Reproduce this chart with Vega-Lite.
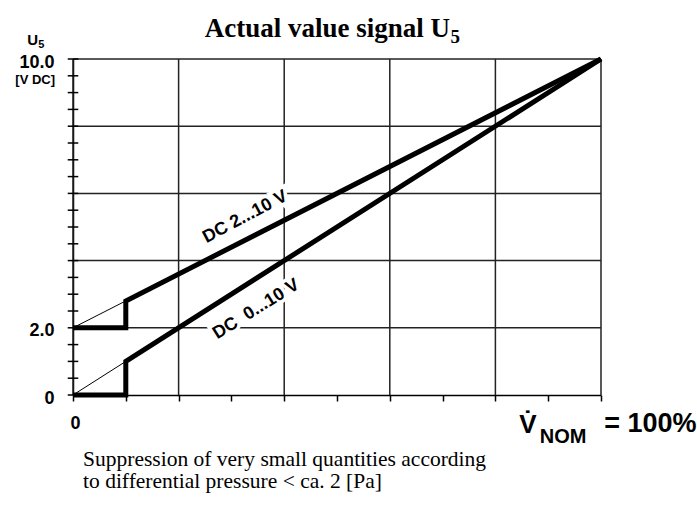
{
  "$schema": "https://vega.github.io/schema/vega-lite/v6.json",
  "width": 528,
  "height": 336,
  "autosize": {"type": "none"},
  "padding": {"left": 73, "top": 59, "right": 96, "bottom": 120},
  "background": "white",
  "config": {"view": {"stroke": null}},
  "datasets": {
    "vgrid": [{"x": 0}, {"x": 20}, {"x": 40}, {"x": 60}, {"x": 80}, {"x": 100}],
    "hgrid": [{"y": 2}, {"y": 4}, {"y": 6}, {"y": 8}, {"y": 10}],
    "yticks": [
      {"y": 0}, {"y": 0.5}, {"y": 1}, {"y": 1.5}, {"y": 2}, {"y": 2.5}, {"y": 3}, {"y": 3.5}, {"y": 4}, {"y": 4.5},
      {"y": 5}, {"y": 5.5}, {"y": 6}, {"y": 6.5}, {"y": 7}, {"y": 7.5}, {"y": 8}, {"y": 8.5}, {"y": 9}, {"y": 9.5}, {"y": 10}
    ],
    "thin": [
      {"s": "DC 0...10 V", "x": 0, "y": 0},
      {"s": "DC 0...10 V", "x": 10, "y": 1},
      {"s": "DC 2...10 V", "x": 0, "y": 2},
      {"s": "DC 2...10 V", "x": 10, "y": 2.8}
    ],
    "thick": [
      {"s": "DC 0...10 V", "i": 1, "x": 0, "y": 0},
      {"s": "DC 0...10 V", "i": 2, "x": 10, "y": 0},
      {"s": "DC 0...10 V", "i": 3, "x": 10, "y": 1},
      {"s": "DC 0...10 V", "i": 4, "x": 100, "y": 10},
      {"s": "DC 2...10 V", "i": 1, "x": 0, "y": 2},
      {"s": "DC 2...10 V", "i": 2, "x": 10, "y": 2},
      {"s": "DC 2...10 V", "i": 3, "x": 10, "y": 2.8},
      {"s": "DC 2...10 V", "i": 4, "x": 100, "y": 10}
    ]
  },
  "layer": [
    {
      "data": {"name": "vgrid"},
      "mark": {"type": "rule", "color": "#222", "strokeWidth": 1.5},
      "encoding": {
        "x": {
          "field": "x", "type": "quantitative",
          "scale": {"domain": [0, 100], "nice": false, "zero": false},
          "axis": {
            "values": [0, 10, 20, 30, 40, 50, 60, 70, 80, 90, 100],
            "labelExpr": "datum.value == 0 ? '0' : ''",
            "title": null, "grid": false,
            "domainColor": "black", "domainWidth": 1.5,
            "tickColor": "black", "tickWidth": 1.5, "tickSize": 6,
            "labelFont": "Liberation Sans", "labelFontWeight": "bold", "labelFontSize": 18,
            "labelColor": "black", "labelPadding": 13, "labelAlign": "center", "labelFlush": false, "labelOffset": 2
          }
        },
        "y": {
          "datum": 0, "type": "quantitative",
          "scale": {"domain": [0, 10], "nice": false},
          "axis": {
            "values": [0, 2, 10],
            "labelExpr": "datum.value == 0 ? '0' : datum.value == 10 ? '10.0' : '2.0'",
            "title": null, "grid": false, "ticks": false,
            "domainColor": "black", "domainWidth": 1.5,
            "labelFont": "Liberation Sans", "labelFontWeight": "bold", "labelFontSize": 18,
            "labelColor": "black", "labelPadding": 19, "labelOffset": 3, "labelFlush": false
          }
        },
        "y2": {"datum": 10}
      }
    },
    {
      "data": {"name": "hgrid"},
      "mark": {"type": "rule", "color": "#222", "strokeWidth": 1.5},
      "encoding": {
        "y": {"field": "y", "type": "quantitative"},
        "x": {"datum": 0, "type": "quantitative"},
        "x2": {"datum": 100}
      }
    },
    {
      "data": {"name": "yticks"},
      "mark": {"type": "rule", "color": "black", "strokeWidth": 1.5},
      "encoding": {
        "y": {"field": "y", "type": "quantitative"},
        "x": {"datum": -1, "type": "quantitative"},
        "x2": {"datum": 1}
      }
    },
    {
      "data": {"values": [{"t": "DC 2...10 V", "x": 32.6, "y": 5.3}]},
      "mark": {"type": "text", "angle": 332, "font": "Liberation Sans", "fontWeight": "bold", "fontSize": 18, "stroke": "white", "strokeWidth": 7, "fill": "white", "align": "center", "baseline": "middle"},
      "encoding": {
        "x": {"field": "x", "type": "quantitative"},
        "y": {"field": "y", "type": "quantitative"},
        "text": {"field": "t"}
      }
    },
    {
      "data": {"values": [{"t": "DC\u00a0 0...10 V", "x": 34.7, "y": 2.55}]},
      "mark": {"type": "text", "angle": 328, "font": "Liberation Sans", "fontWeight": "bold", "fontSize": 18, "stroke": "white", "strokeWidth": 7, "fill": "white", "align": "center", "baseline": "middle"},
      "encoding": {
        "x": {"field": "x", "type": "quantitative"},
        "y": {"field": "y", "type": "quantitative"},
        "text": {"field": "t"}
      }
    },
    {
      "data": {"name": "thin"},
      "mark": {"type": "line", "color": "black", "strokeWidth": 1},
      "encoding": {
        "x": {"field": "x", "type": "quantitative"},
        "y": {"field": "y", "type": "quantitative"},
        "detail": {"field": "s"}
      }
    },
    {
      "data": {"name": "thick"},
      "mark": {"type": "line", "color": "black", "strokeWidth": 5, "strokeJoin": "miter", "strokeCap": "butt"},
      "encoding": {
        "x": {"field": "x", "type": "quantitative"},
        "y": {"field": "y", "type": "quantitative"},
        "detail": {"field": "s"},
        "order": {"field": "i"}
      }
    },
    {
      "mark": {"type": "rule", "color": "black", "strokeWidth": 1.5, "strokeDash": [7, 5]},
      "encoding": {
        "x": {"datum": 10, "type": "quantitative"},
        "y": {"datum": -1.9, "type": "quantitative"},
        "y2": {"datum": 3.6}
      }
    },
    {
      "data": {"values": [{"t": "DC 2...10 V", "x": 32.6, "y": 5.3}]},
      "mark": {"type": "text", "angle": 332, "font": "Liberation Sans", "fontWeight": "bold", "fontSize": 18, "color": "black", "align": "center", "baseline": "middle"},
      "encoding": {
        "x": {"field": "x", "type": "quantitative"},
        "y": {"field": "y", "type": "quantitative"},
        "text": {"field": "t"}
      }
    },
    {
      "data": {"values": [{"t": "DC\u00a0 0...10 V", "x": 34.7, "y": 2.55}]},
      "mark": {"type": "text", "angle": 328, "font": "Liberation Sans", "fontWeight": "bold", "fontSize": 18, "color": "black", "align": "center", "baseline": "middle"},
      "encoding": {
        "x": {"field": "x", "type": "quantitative"},
        "y": {"field": "y", "type": "quantitative"},
        "text": {"field": "t"}
      }
    },
    {
      "data": {"values": [{"t": "Actual value signal U", "x": 71.4, "y": 10.655}]},
      "mark": {"type": "text", "font": "Liberation Serif", "fontWeight": "bold", "fontSize": 27, "color": "black", "align": "right", "baseline": "alphabetic"},
      "encoding": {
        "x": {"field": "x", "type": "quantitative"},
        "y": {"field": "y", "type": "quantitative"},
        "text": {"field": "t"}
      }
    },
    {
      "data": {"values": [{"t": "5", "x": 71.5, "y": 10.48}]},
      "mark": {"type": "text", "font": "Liberation Serif", "fontWeight": "bold", "fontSize": 19, "color": "black", "align": "left", "baseline": "alphabetic"},
      "encoding": {
        "x": {"field": "x", "type": "quantitative"},
        "y": {"field": "y", "type": "quantitative"},
        "text": {"field": "t"}
      }
    },
    {
      "data": {"values": [{"t": "U", "x": -6.6, "y": 10.42}]},
      "mark": {"type": "text", "font": "Liberation Sans", "fontWeight": "bold", "fontSize": 15, "color": "black", "align": "right", "baseline": "alphabetic"},
      "encoding": {
        "x": {"field": "x", "type": "quantitative"},
        "y": {"field": "y", "type": "quantitative"},
        "text": {"field": "t"}
      }
    },
    {
      "data": {"values": [{"t": "5", "x": -6.6, "y": 10.33}]},
      "mark": {"type": "text", "font": "Liberation Sans", "fontWeight": "bold", "fontSize": 11, "color": "black", "align": "left", "baseline": "alphabetic"},
      "encoding": {
        "x": {"field": "x", "type": "quantitative"},
        "y": {"field": "y", "type": "quantitative"},
        "text": {"field": "t"}
      }
    },
    {
      "data": {"values": [{"t": "[V DC]", "x": -3.4, "y": 9.37}]},
      "mark": {"type": "text", "font": "Liberation Sans", "fontWeight": "bold", "fontSize": 13, "color": "black", "align": "right", "baseline": "middle"},
      "encoding": {
        "x": {"field": "x", "type": "quantitative"},
        "y": {"field": "y", "type": "quantitative"},
        "text": {"field": "t"}
      }
    },
    {
      "data": {"values": [{"t": "V̇", "x": 84.5, "y": -1.13}]},
      "mark": {"type": "text", "font": "Liberation Sans", "fontWeight": "bold", "fontSize": 26, "color": "black", "align": "left", "baseline": "alphabetic"},
      "encoding": {
        "x": {"field": "x", "type": "quantitative"},
        "y": {"field": "y", "type": "quantitative"},
        "text": {"field": "t"}
      }
    },
    {
      "data": {"values": [{"t": "NOM", "x": 88.4, "y": -1.43}]},
      "mark": {"type": "text", "font": "Liberation Sans", "fontWeight": "bold", "fontSize": 20, "color": "black", "align": "left", "baseline": "alphabetic"},
      "encoding": {
        "x": {"field": "x", "type": "quantitative"},
        "y": {"field": "y", "type": "quantitative"},
        "text": {"field": "t"}
      }
    },
    {
      "data": {"values": [{"t": "= 100%", "x": 100.6, "y": -1.1}]},
      "mark": {"type": "text", "font": "Liberation Sans", "fontWeight": "bold", "fontSize": 27, "color": "black", "align": "left", "baseline": "alphabetic"},
      "encoding": {
        "x": {"field": "x", "type": "quantitative"},
        "y": {"field": "y", "type": "quantitative"},
        "text": {"field": "t"}
      }
    },
    {
      "data": {"values": [{"t": ["Suppression of very small quantities according", "to differential pressure  < ca. 2 [Pa]"], "x": 1.9, "y": -2.1}]},
      "mark": {"type": "text", "font": "Liberation Serif", "fontSize": 21.5, "lineHeight": 22, "color": "black", "align": "left", "baseline": "alphabetic"},
      "encoding": {
        "x": {"field": "x", "type": "quantitative"},
        "y": {"field": "y", "type": "quantitative"},
        "text": {"field": "t"}
      }
    }
  ]
}
